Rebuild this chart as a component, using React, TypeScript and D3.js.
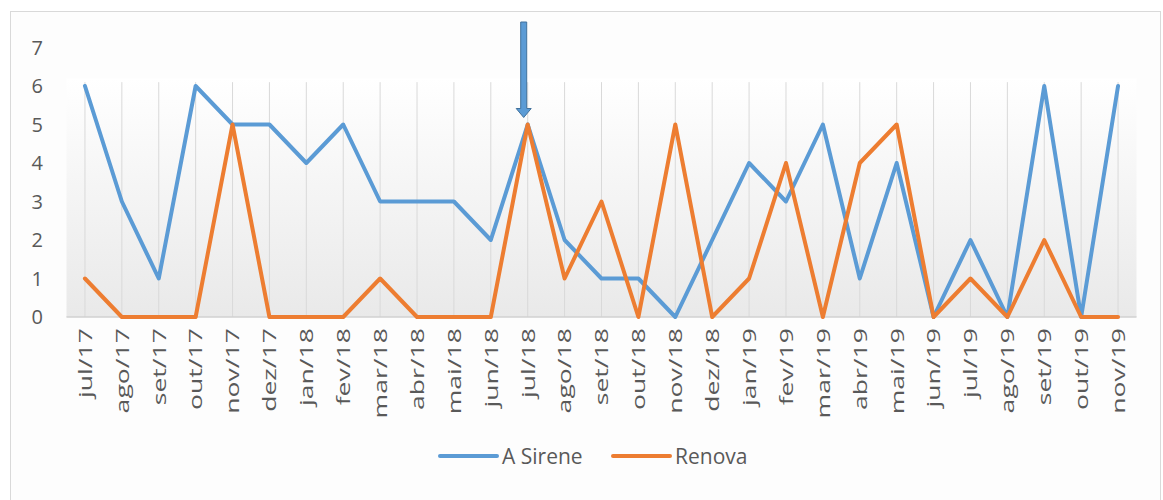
import React from "react";
import * as d3 from "d3";

// meses (eixo x)
const months = [
  "jul/17", "ago/17", "set/17", "out/17", "nov/17", "dez/17",
  "jan/18", "fev/18", "mar/18", "abr/18", "mai/18", "jun/18",
  "jul/18", "ago/18", "set/18", "out/18", "nov/18", "dez/18",
  "jan/19", "fev/19", "mar/19", "abr/19", "mai/19", "jun/19",
  "jul/19", "ago/19", "set/19", "out/19", "nov/19",
];

const sirene = [6, 3, 1, 6, 5, 5, 4, 5, 3, 3, 3, 2, 5, 2, 1, 1, 0, 2, 4, 3, 5, 1, 4, 0, 2, 0, 6, 0, 6];
const renova = [1, 0, 0, 0, 5, 0, 0, 0, 1, 0, 0, 0, 5, 1, 3, 0, 5, 0, 1, 4, 0, 4, 5, 0, 1, 0, 2, 0, 0];

const yTicks = [0, 1, 2, 3, 4, 5, 6, 7];
const arrowMonth = "jul/18";

const seriesList = [
  { name: "A Sirene", values: sirene, color: "#5b9bd5" },
  { name: "Renova", values: renova, color: "#ed7d31" },
];

const W = 1163;
const H = 500;
const textColor = "#595959";
const font = "'Open Sans', sans-serif";

export default function App() {
  const x = d3.scalePoint<string>().domain(months).range([66.5, 1136.5]).padding(0.5);
  const y = d3.scaleLinear().domain([0, 7]).range([317, 47.5]);

  const line = d3
    .line<number>()
    .x((_, i) => x(months[i]) as number)
    .y((d) => y(d));

  const ax = (x(arrowMonth) as number) - 4;
  const tipY = y(5) - 7;

  return (
    <svg width={W} height={H} style={{ position: "absolute", left: 0, top: 0 }}>
      <defs>
        <linearGradient id="plotBg" x1="0" y1="0" x2="0" y2="1">
          <stop offset="0" stopColor="#ffffff" />
          <stop offset="1" stopColor="#e9e9e9" />
        </linearGradient>
      </defs>
      <rect x={0} y={0} width={W} height={H} fill="#ffffff" />
      <rect x={10.5} y={11.5} width={1150} height={490} fill="#fdfdfd" stroke="#d9d9d9" />

      {/* fundo da área do gráfico */}
      <rect x={66.5} y={y(6.2)} width={1070} height={y(0) - y(6.2)} fill="url(#plotBg)" />

      {/* linhas verticais */}
      {months.map((m) => (
        <line key={m} x1={x(m)} x2={x(m)} y1={y(6.1)} y2={y(0)} stroke="#d9d9d9" strokeWidth={1} />
      ))}
      <line x1={66.5} x2={1136.5} y1={y(0)} y2={y(0)} stroke="#d0d0d0" strokeWidth={1.5} />

      {/* eixo y */}
      {yTicks.map((t) => (
        <text key={t} x={43} y={y(t)} dy="0.35em" textAnchor="end" fontFamily={font} fontSize={20} fill={textColor}>
          {t}
        </text>
      ))}

      {/* eixo x */}
      {months.map((m) => (
        <text
          key={m}
          transform={`translate(${x(m)},328) scale(1,1.4) rotate(-90)`}
          dy="0.36em"
          textAnchor="end"
          fontFamily={font}
          fontSize={19}
          fill={textColor}
        >
          {m}
        </text>
      ))}

      {/* séries */}
      {seriesList.map((s) => (
        <path
          key={s.name}
          d={line(s.values) || ""}
          fill="none"
          stroke={s.color}
          strokeWidth={4}
          strokeLinejoin="round"
          strokeLinecap="round"
        />
      ))}

      {/* seta */}
      <path
        d={`M${ax - 3},22 L${ax + 3},22 L${ax + 3},${tipY - 9} L${ax + 7.5},${tipY - 9} L${ax},${tipY} L${ax - 7.5},${tipY - 9} L${ax - 3},${tipY - 9} Z`}
        fill="#5b9bd5"
        stroke="#41719c"
        strokeWidth={1}
      />

      {/* legenda */}
      {seriesList.map((s, i) => {
        const lx = 440 + i * 173;
        return (
          <g key={s.name}>
            <line x1={lx} x2={lx + 57} y1={456} y2={456} stroke={s.color} strokeWidth={4} strokeLinecap="round" />
            <text x={lx + 62} y={456} dy="0.36em" fontFamily={font} fontSize={21} fill={textColor}>
              {s.name}
            </text>
          </g>
        );
      })}
    </svg>
  );
}
